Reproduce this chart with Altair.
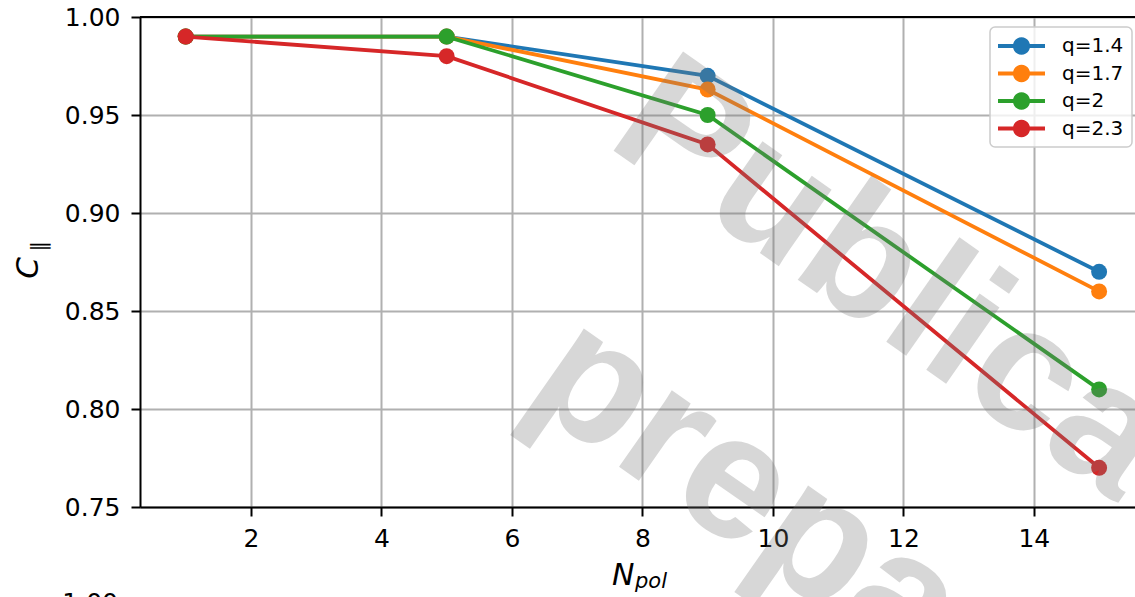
import altair as alt
import pandas as pd

# Number of polarisation steps and the coefficient C_parallel for each q
n_pol = [1, 5, 9, 15]
q_labels = ["q=1.4", "q=1.7", "q=2", "q=2.3"]
c_q14 = [0.99, 0.99, 0.970, 0.87]
c_q17 = [0.99, 0.99, 0.963, 0.86]
c_q20 = [0.99, 0.99, 0.950, 0.81]
c_q23 = [0.99, 0.98, 0.935, 0.77]
palette = ["#1f77b4", "#ff7f0e", "#2ca02c", "#d62728"]
x_ticks = [2, 4, 6, 8, 10, 12, 14]
y_ticks = [0.75, 0.80, 0.85, 0.90, 0.95, 1.00]

rows = []
for label, values in zip(q_labels, [c_q14, c_q17, c_q20, c_q23]):
    for n, c in zip(n_pol, values):
        rows.append({"N": n, "C": c, "q": label})
df = pd.DataFrame(rows)

W, H = 995, 490
FONT = "DejaVu Sans"

x_enc = alt.X("N:Q", scale=alt.Scale(domain=[0.3, 15.55], nice=False, zero=False),
              axis=alt.Axis(values=x_ticks, title=None, grid=True, labelPadding=10))
y_enc = alt.Y("C:Q", scale=alt.Scale(domain=[0.75, 1.0], nice=False, zero=False),
              axis=alt.Axis(values=y_ticks, format=".2f", title=None, grid=True, labelPadding=11))
color_scale = alt.Scale(domain=q_labels, range=palette)

# legend glyph: a short line with a dot in the middle (unit = half the symbol size)
LEGEND_GLYPH = ("M-1,-0.173L3.273,-0.173L3.273,0.173L-1,0.173Z "
                "M1.909,0A0.773,0.773,0,1,1,0.364,0A0.773,0.773,0,1,1,1.909,0Z")
legend = alt.Legend(
    title=None, orient="none", legendX=850, legendY=10,
    symbolType=LEGEND_GLYPH, symbolSize=484, symbolStrokeWidth=0, symbolOpacity=1,
    labelFont=FONT, labelFontSize=20, labelColor="black", labelOffset=42, labelLimit=300,
    padding=8, rowPadding=6.5, strokeColor="#cccccc",
    fillColor="rgba(255,255,255,0.8)", cornerRadius=5,
)

layers = []
for i, label in enumerate(q_labels):
    base = alt.Chart(df).transform_filter(alt.datum.q == label)
    layers.append(base.mark_line(color=palette[i], strokeWidth=3.8).encode(x=x_enc, y=y_enc))
    layers.append(
        base.mark_circle(size=255, opacity=1, strokeWidth=0).encode(
            x=x_enc, y=y_enc,
            color=alt.Color("q:N", scale=color_scale, legend=legend if i == 0 else None),
        )
    )


def text_layer(text, x, y, size, angle=0, style="normal", weight="normal", font=FONT,
               align="left", baseline="alphabetic", color="black", opacity=1.0):
    return alt.Chart(alt.Data(values=[{}])).mark_text(
        text=text, font=font, fontSize=size, fontStyle=style, fontWeight=weight,
        angle=angle, align=align, baseline=baseline, color=color, opacity=opacity,
    ).encode(x=alt.value(x), y=alt.value(y))


# top spine
top_spine = alt.Chart(alt.Data(values=[{}])).mark_rule(color="black", strokeWidth=2).encode(
    x=alt.value(0), x2=alt.value(W), y=alt.value(0)
)

WM = dict(angle=35, weight="bold", font="Liberation Sans", color="#777777", opacity=0.29)

decor = [
    top_spine,
    # y title: C with a parallel subscript
    text_layer("C", -111.5, 251, 31, angle=270, style="italic", align="center", baseline="middle"),
    text_layer("\u2225", -100.5, 229.5, 21, angle=270, align="center", baseline="middle"),
    # x title: N with subscript pol
    text_layer("N", 472, 568, 30, style="italic"),
    text_layer("pol", 495, 571, 21, style="italic"),
    # tick label of the panel below
    text_layer("1.00", -22, 594, 25, align="right"),
    # watermark
    text_layer("Publication", 464, 127, 176, **WM),
    text_layer("preparation", 381, 381, 176, **WM),
]

chart = alt.layer(*layers, *decor).properties(
    width=W, height=H,
    autosize=alt.AutoSizeParams(type="none"),
    padding={"left": 140, "top": 17, "right": 0, "bottom": 90},
    background="white",
).configure_view(
    strokeWidth=0
).configure_axis(
    domainColor="black", domainWidth=2, tickColor="black", tickWidth=2, tickSize=9,
    gridColor="#b0b0b0", gridWidth=2, labelFont=FONT, labelFontSize=25, labelColor="black",
).configure_legend(
    strokeWidth=1.5
)

chart.save("out.html", embed_options={"renderer": "svg", "actions": False})
